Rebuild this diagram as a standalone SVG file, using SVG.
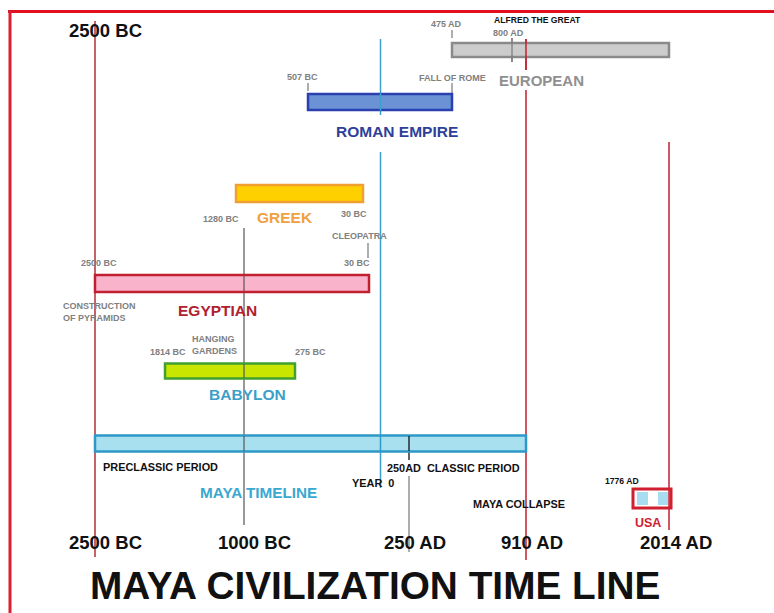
<svg xmlns="http://www.w3.org/2000/svg" width="774" height="613" viewBox="0 0 774 613">
<style>
text{font-family:"Liberation Sans",Arial,sans-serif;font-weight:bold}
.sm{font-size:9px;fill:#808080}
.bk{font-size:10.9px;fill:#111}
.big{font-size:18.5px;fill:#111}
.name{font-size:15.5px}
.bar{stroke-width:2.5}
.tick{stroke:#777;stroke-width:1.2}
</style>
<rect x="0" y="0" width="774" height="613" fill="#fff"/>
<g id="frame">
<line x1="8" y1="11.5" x2="774" y2="11.5" stroke="#e01020" stroke-width="3"/>
<line x1="10" y1="11" x2="10" y2="613" stroke="#d82030" stroke-width="3"/>
</g>
<g id="connectors" fill="none">
<line x1="95" y1="21" x2="95" y2="557" stroke="#b03038" stroke-width="1.5"/>
<line x1="244" y1="228" x2="244" y2="525" stroke="#555" stroke-width="1.2"/>
<line x1="380.5" y1="39" x2="380.5" y2="115" stroke="#3aa0d0" stroke-width="1.5"/>
<line x1="380.5" y1="152" x2="380.5" y2="488" stroke="#3aa0d0" stroke-width="1.5"/>
<line x1="409" y1="435" x2="409" y2="460" stroke="#111" stroke-width="1.3"/>
<line x1="409" y1="476" x2="409" y2="552" stroke="#777" stroke-width="1.2"/>
<line x1="526" y1="39" x2="526" y2="70" stroke="#c02030" stroke-width="1.5"/>
<line x1="526" y1="90" x2="526" y2="560" stroke="#c02030" stroke-width="1.5"/>
<line x1="669" y1="142" x2="669" y2="530" stroke="#c02030" stroke-width="1.5"/>
<line class="tick" x1="452" y1="30" x2="452" y2="38"/>
<line class="tick" x1="512" y1="38" x2="512" y2="62"/>
<line class="tick" x1="452" y1="83" x2="452" y2="93"/>
<line class="tick" x1="308" y1="83" x2="308" y2="91"/>
<line class="tick" x1="368" y1="243" x2="368" y2="258"/>
</g>
<g id="european">
<rect class="bar" x="452" y="43" width="217" height="14" fill="#cccccc" stroke="#8a8a8a"/>
<line x1="512" y1="38" x2="512" y2="62" stroke="#777" stroke-width="1.2"/>
<line x1="526" y1="39" x2="526" y2="70" stroke="#c02030" stroke-width="1.5"/>
<text class="sm" x="446" y="27" text-anchor="middle">475 AD</text>
<text x="494" y="23" style="font-size:8.6px;fill:#111">ALFRED THE GREAT</text>
<text class="sm" x="493" y="36">800 AD</text>
<text class="sm" x="419" y="81">FALL OF ROME</text>
<text x="499" y="86" style="font-size:15px;fill:#909090">EUROPEAN</text>
</g>
<g id="roman">
<rect class="bar" x="308" y="94" width="144" height="16" fill="#6a92d4" stroke="#2a40b0"/>
<line x1="380.5" y1="93" x2="380.5" y2="111" stroke="#3aa0d0" stroke-width="1.5"/>
<text class="sm" x="287" y="80">507 BC</text>
<text class="name" x="336" y="137" fill="#2e3f9a">ROMAN EMPIRE</text>
</g>
<g id="greek">
<rect class="bar" x="236" y="185" width="127" height="17" fill="#ffd000" stroke="#f0a030"/>
<text class="name" x="257" y="223" fill="#f0a040">GREEK</text>
<text class="sm" x="203" y="222">1280 BC</text>
<text class="sm" x="341" y="217">30 BC</text>
<text class="sm" x="332" y="239">CLEOPATRA</text>
<text class="sm" x="344" y="266">30 BC</text>
</g>
<g id="egyptian">
<rect class="bar" x="95" y="275" width="274" height="17" fill="#f9b4cc" stroke="#c02030"/>
<line x1="244" y1="276" x2="244" y2="291" stroke="#555" stroke-width="1.2"/>
<text class="sm" x="81" y="266">2500 BC</text>
<text class="sm" x="63" y="309">CONSTRUCTION</text>
<text class="sm" x="63" y="321">OF PYRAMIDS</text>
<text class="name" x="178" y="316" fill="#b02030">EGYPTIAN</text>
</g>
<g id="babylon">
<rect class="bar" x="165" y="363.5" width="130" height="15" fill="#c8e600" stroke="#40a030"/>
<line x1="244" y1="364" x2="244" y2="378" stroke="#555" stroke-width="1.2"/>
<text class="sm" x="150" y="355">1814 BC</text>
<text class="sm" x="192" y="342">HANGING</text>
<text class="sm" x="192" y="354">GARDENS</text>
<text class="sm" x="295" y="355">275 BC</text>
<text class="name" x="209" y="400" fill="#3aa0c8">BABYLON</text>
</g>
<g id="maya">
<rect class="bar" x="95" y="435.5" width="431" height="16" fill="#a8e0f0" stroke="#2e98c8"/>
<line x1="244" y1="436" x2="244" y2="451" stroke="#555" stroke-width="1.2"/>
<line x1="380.5" y1="436" x2="380.5" y2="451" stroke="#2e98c8" stroke-width="1.5"/>
<line x1="409" y1="436" x2="409" y2="451" stroke="#111" stroke-width="1.3"/>
<text class="bk" x="103" y="471">PRECLASSIC PERIOD</text>
<text class="bk" x="352" y="487" xml:space="preserve">YEAR  0</text>
<text class="bk" x="387" y="472" xml:space="preserve">250AD  CLASSIC PERIOD</text>
<text x="200" y="498" style="font-size:15.3px;fill:#3aa8d0">MAYA TIMELINE</text>
<text class="bk" x="473" y="508">MAYA COLLAPSE</text>
</g>
<g id="usa">
<rect x="633" y="489" width="38" height="19" fill="#fff" stroke="#d02030" stroke-width="3"/>
<rect x="637" y="492" width="11" height="13" fill="#a8dcf0"/>
<rect x="658" y="492" width="10" height="13" fill="#a8dcf0"/>
<line x1="669" y1="490" x2="669" y2="508" stroke="#c02030" stroke-width="1.5"/>
<text x="605" y="484" style="font-size:8.6px;fill:#111">1776 AD</text>
<text x="635" y="527" style="font-size:12.5px;fill:#d02030">USA</text>
</g>
<g id="axis">
<text class="big" x="69" y="37">2500 BC</text>
<text class="big" x="69" y="549">2500 BC</text>
<text class="big" x="218" y="549">1000 BC</text>
<text class="big" x="384" y="549">250 AD</text>
<text class="big" x="501" y="549">910 AD</text>
<text class="big" x="640" y="549">2014 AD</text>
</g>
<text id="title" x="90" y="599" style="font-size:38.8px;fill:#111">MAYA CIVILIZATION TIME LINE</text>
</svg>
